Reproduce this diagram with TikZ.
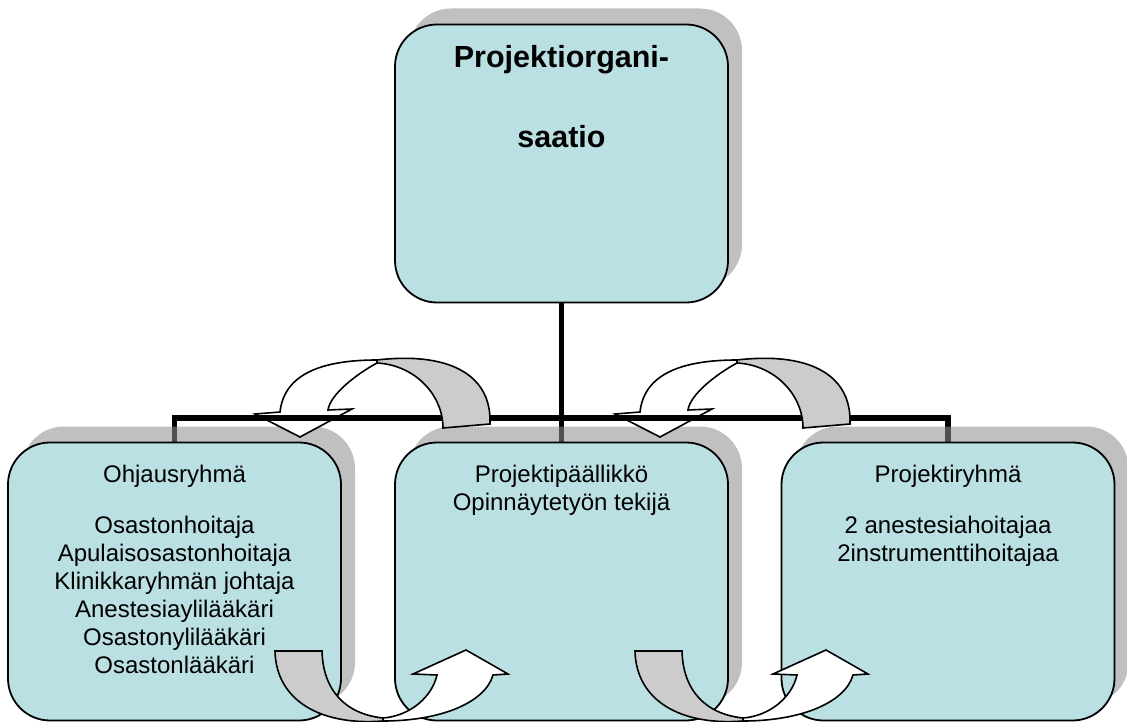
\documentclass[tikz,border=0pt]{standalone}
\usepackage{fontspec}
\setmainfont{Liberation Sans}
\usetikzlibrary{shadows}
\pgfdeclarelayer{wires}
\pgfsetlayers{wires,main}
\definecolor{boxfill}{HTML}{BBE0E3}
\definecolor{band}{HTML}{CCCCCC}
\begin{document}
\begin{tikzpicture}[x=1pt,y=-1pt,
  orgbox/.style={draw=black, line width=1.8pt, fill=boxfill, rounded corners=42pt,
    minimum width=333pt, minimum height=278pt, inner sep=0pt,
    drop shadow={shadow xshift=14pt, shadow yshift=16pt, fill=black!44, opacity=0.56}},
  wire/.style={draw=black, line width=5.5pt},
  txt/.style={anchor=base, inner sep=0pt, font=\fontsize{24}{28}\selectfont},
  headtxt/.style={anchor=base, inner sep=0pt, font=\fontsize{30.5}{36}\selectfont\bfseries},
  frontband/.style={fill=white, draw=black, line width=1.6pt, line join=miter},
  backband/.style={fill=band, draw=black, line width=1.6pt, line join=miter},
]
\useasboundingbox (0,0) rectangle (1127,722);

% boxes
\node[orgbox] (top)   at (561.5,163.5) {};
\node[orgbox] (left)  at (174.5,581.5) {};
\node[orgbox] (mid)   at (561.5,581.5) {};
\node[orgbox] (right) at (948,581.5) {};
\coordinate (bar) at (561.5,418);

% vertical wires sit beneath the box shadows
\begin{pgfonlayer}{wires}
  \draw[wire] (top.south) -- (mid.north);
  \draw[wire] (left.north |- bar) -- (left.north);
  \draw[wire] (right.north |- bar) -- (right.north);
\end{pgfonlayer}

% texts
\node[headtxt] (h1) at (561.5,68) {Projektiorgani-};
\node[headtxt] (h2) at (561.5,148) {saatio};

\node[txt] (l0) at (174.5,482) {Ohjausryhmä};
\node[txt] (l1) at (174.5,533) {Osastonhoitaja};
\node[txt] (l2) at (174.5,561) {Apulaisosastonhoitaja};
\node[txt] (l3) at (174.5,589) {Klinikkaryhmän johtaja};
\node[txt] (l4) at (174.5,617) {Anestesiaylilääkäri};
\node[txt] (l5) at (174.5,645) {Osastonylilääkäri};
\node[txt] (l6) at (174.5,673) {Osastonlääkäri};

\node[txt] (m0) at (561.5,482) {Projektipäällikkö};
\node[txt] (m1) at (561.5,510) {Opinnäytetyön tekijä};

\node[txt] (r0) at (948,482) {Projektiryhmä};
\node[txt] (r1) at (948,533) {2 anestesiahoitajaa};
\node[txt] (r2) at (948,561) {2instrumenttihoitajaa};

% upper curved arrows: white front part
\foreach \dx in {0,360} {
  \begin{scope}[xshift=\dx pt]
    \path[frontband] (280,412) .. controls (284,375) and (320,360) .. (377,360)
      -- (377,363) .. controls (355,375) and (330,395) .. (328,410)
      -- (352,409) -- (300,437) -- (255,414) -- cycle;
  \end{scope}
}

% horizontal wire
\draw[wire, line cap=rect] (left.north |- bar) -- (right.north |- bar);

% upper curved arrows: grey back part
\foreach \dx in {0,360} {
  \begin{scope}[xshift=\dx pt]
    \path[backband] (377,360) .. controls (445,352) and (492,372) .. (490,424)
      -- (443,428) .. controls (443,395) and (415,365) .. (377,363) -- cycle;
  \end{scope}
}

% lower curved arrows
\foreach \dx in {0,360} {
  \begin{scope}[xshift=\dx pt]
    \path[backband] (275,651) -- (322,651) .. controls (323,690) and (345,714) .. (383,718)
      -- (383,721) .. controls (320,726) and (276,700) .. (275,651) -- cycle;
    \path[frontband] (383,718) .. controls (410,716) and (432,697) .. (437,675)
      -- (413,674) -- (466,650) -- (508,674) -- (493,675)
      .. controls (485,703) and (440,721) .. (383,721) -- cycle;
  \end{scope}
}
\end{tikzpicture}
\end{document}
